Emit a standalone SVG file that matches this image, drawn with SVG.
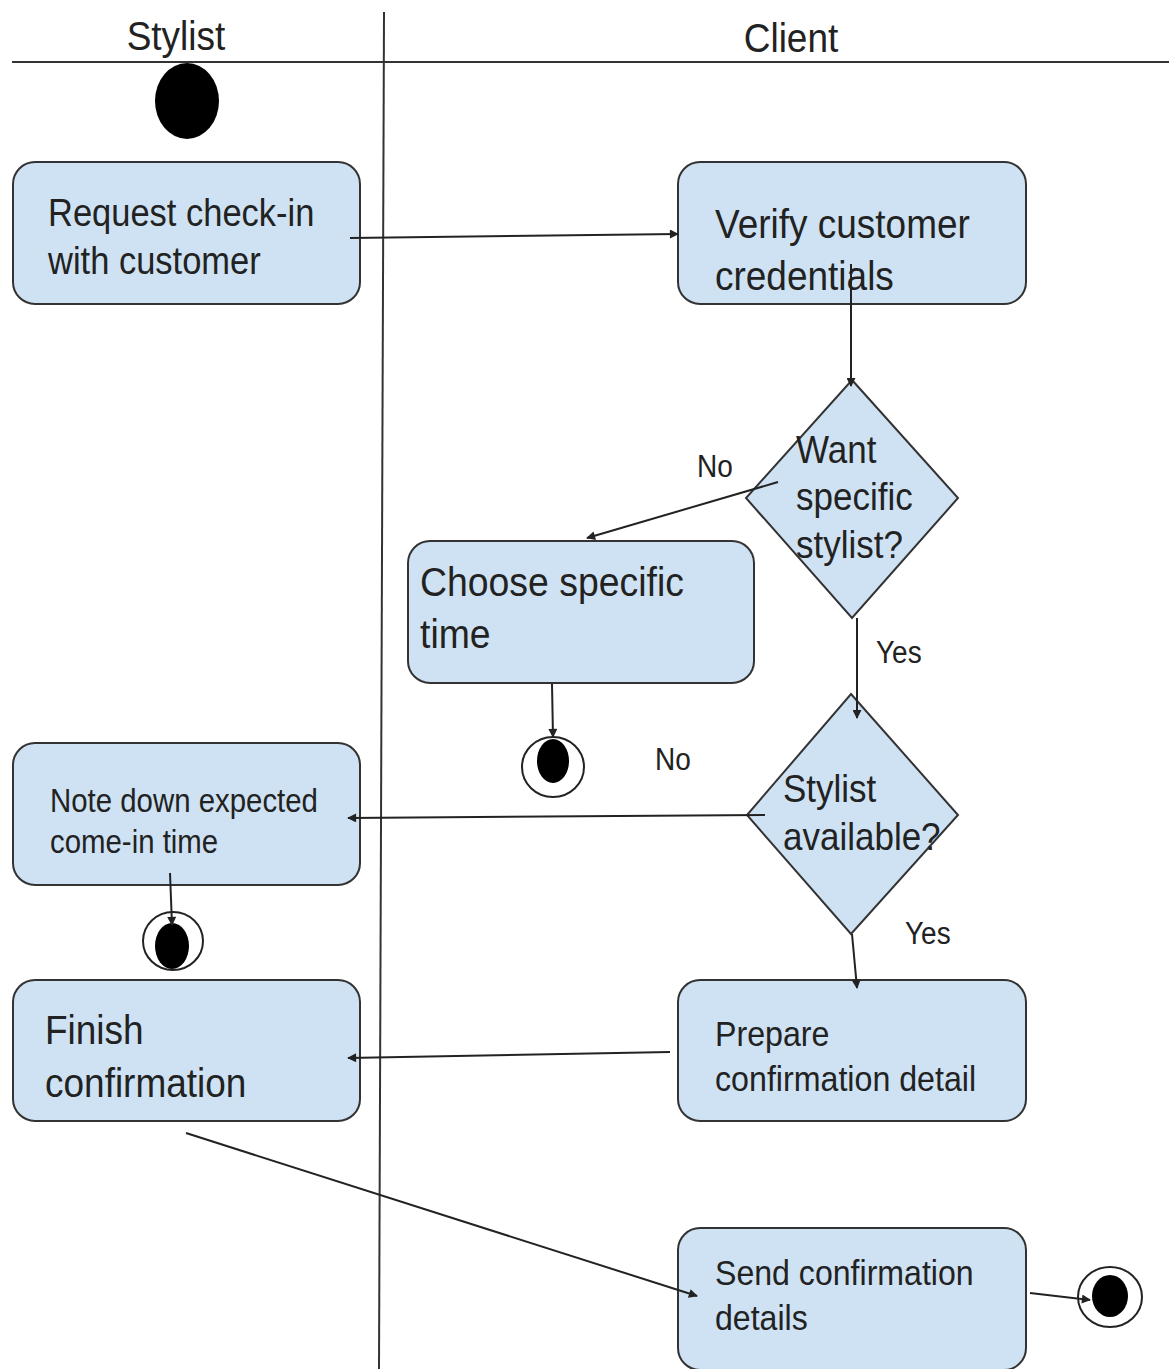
<svg xmlns="http://www.w3.org/2000/svg" width="1169" height="1369" viewBox="0 0 1169 1369">
  <style>
    .box { fill: #cfe2f3; stroke: #333; stroke-width: 2; }
    .lane { stroke: #333; stroke-width: 2; fill: none; }
    .edge { stroke: #222; stroke-width: 2; fill: none; marker-end: url(#arrow); }
    .lbl { font-family: "Liberation Sans", Arial, sans-serif; fill: #222; }
    .ring { fill: #fff; stroke: #222; stroke-width: 2; }
    .dot { fill: #000; }
  </style>
  <defs>
    <marker id="arrow" viewBox="0 0 10 10" refX="9" refY="5" markerWidth="11" markerHeight="9" markerUnits="userSpaceOnUse" orient="auto">
      <path d="M0,0 L10,5 L0,10 Z" fill="#222"/>
    </marker>
  </defs>
  <rect width="1169" height="1369" fill="#fff"/>

  <!-- swimlanes -->
  <g id="lanes">
    <line class="lane" x1="12" y1="62" x2="1169" y2="62"/>
    <line class="lane" x1="384" y1="12" x2="379" y2="1369"/>
    <text class="lbl" font-size="37" transform="translate(176 50) scale(1 1.1)" text-anchor="middle">Stylist</text>
    <text class="lbl" font-size="37" transform="translate(791 52) scale(1 1.1)" text-anchor="middle">Client</text>
  </g>

  <!-- start node -->
  <g id="start">
    <ellipse class="dot" cx="187" cy="101" rx="32" ry="38"/>
  </g>

  <g id="request-checkin">
    <rect class="box" x="13" y="162" width="347" height="142" rx="22"/>
    <text class="lbl" font-size="34.5" transform="translate(48 226) scale(1 1.1)">Request check-in</text>
    <text class="lbl" font-size="34.5" transform="translate(48 274) scale(1 1.1)">with customer</text>
  </g>

  <g id="verify-credentials">
    <rect class="box" x="678" y="162" width="348" height="142" rx="22"/>
    <text class="lbl" font-size="37" transform="translate(715 238) scale(1 1.1)">Verify customer</text>
    <text class="lbl" font-size="37" transform="translate(715 290) scale(1 1.1)">credentials</text>
  </g>

  <g id="want-specific-stylist">
    <path class="box" d="M852,380 L958,498 L852,618 L746,498 Z"/>
    <text class="lbl" font-size="35" transform="translate(796 463) scale(1 1.1)">Want</text>
    <text class="lbl" font-size="35" transform="translate(796 510) scale(1 1.1)">specific</text>
    <text class="lbl" font-size="35" transform="translate(796 558) scale(1 1.1)">stylist?</text>
  </g>

  <g id="choose-time">
    <rect class="box" x="408" y="541" width="346" height="142" rx="22"/>
    <text class="lbl" font-size="37.4" transform="translate(420 596) scale(1 1.1)">Choose specific</text>
    <text class="lbl" font-size="37.4" transform="translate(420 648) scale(1 1.1)">time</text>
  </g>

  <g id="end-choose">
    <ellipse class="ring" cx="553" cy="767" rx="31" ry="30"/>
    <ellipse class="dot" cx="553" cy="761" rx="16" ry="22"/>
  </g>

  <g id="stylist-available">
    <path class="box" d="M851,694 L958,815 L851,934 L747,815 Z"/>
    <text class="lbl" font-size="35" transform="translate(783 802) scale(1 1.1)">Stylist</text>
    <text class="lbl" font-size="35" transform="translate(783 850) scale(1 1.1)">available?</text>
  </g>

  <g id="note-come-in">
    <rect class="box" x="13" y="743" width="347" height="142" rx="22"/>
    <text class="lbl" font-size="29.4" transform="translate(50 812) scale(1 1.1)">Note down expected</text>
    <text class="lbl" font-size="29.4" transform="translate(50 853) scale(1 1.1)">come-in time</text>
  </g>

  <g id="end-note">
    <ellipse class="ring" cx="173" cy="941" rx="30" ry="29"/>
    <ellipse class="dot" cx="172" cy="946" rx="17" ry="23"/>
  </g>

  <g id="finish-confirmation">
    <rect class="box" x="13" y="980" width="347" height="141" rx="22"/>
    <text class="lbl" font-size="37" transform="translate(45 1044) scale(1 1.1)">Finish</text>
    <text class="lbl" font-size="37" transform="translate(45 1097) scale(1 1.1)">confirmation</text>
  </g>

  <g id="prepare-detail">
    <rect class="box" x="678" y="980" width="348" height="141" rx="22"/>
    <text class="lbl" font-size="32.2" transform="translate(715 1046) scale(1 1.1)">Prepare</text>
    <text class="lbl" font-size="32.2" transform="translate(715 1091) scale(1 1.1)">confirmation detail</text>
  </g>

  <g id="send-details">
    <rect class="box" x="678" y="1228" width="348" height="142" rx="22"/>
    <text class="lbl" font-size="32.1" transform="translate(715 1285) scale(1 1.1)">Send confirmation</text>
    <text class="lbl" font-size="32.1" transform="translate(715 1330) scale(1 1.1)">details</text>
  </g>

  <g id="end-send">
    <ellipse class="ring" cx="1110" cy="1297" rx="32" ry="30"/>
    <ellipse class="dot" cx="1110" cy="1296" rx="18" ry="21"/>
  </g>

  <!-- connectors, drawn over the nodes -->
  <g id="connectors">
    <line class="edge" x1="350" y1="238" x2="678" y2="234"/>
    <line class="edge" x1="851" y1="264" x2="851" y2="386"/>
    <line class="edge" x1="778" y1="482" x2="587" y2="538"/>
    <line class="edge" x1="552" y1="684" x2="553" y2="737"/>
    <line class="edge" x1="857" y1="618" x2="857" y2="718"/>
    <line class="edge" x1="765" y1="815" x2="348" y2="818"/>
    <line class="edge" x1="170" y1="873" x2="172" y2="925"/>
    <line class="edge" x1="852" y1="934" x2="857" y2="988"/>
    <line class="edge" x1="670" y1="1052" x2="348" y2="1058"/>
    <line class="edge" x1="186" y1="1133" x2="697" y2="1296"/>
    <line class="edge" x1="1030" y1="1293" x2="1090" y2="1300"/>
    <text class="lbl" font-size="28" transform="translate(697 477) scale(1 1.1)">No</text>
    <text class="lbl" font-size="28" transform="translate(876 663) scale(1 1.1)">Yes</text>
    <text class="lbl" font-size="28" transform="translate(655 770) scale(1 1.1)">No</text>
    <text class="lbl" font-size="28" transform="translate(905 944) scale(1 1.1)">Yes</text>
  </g>
</svg>
